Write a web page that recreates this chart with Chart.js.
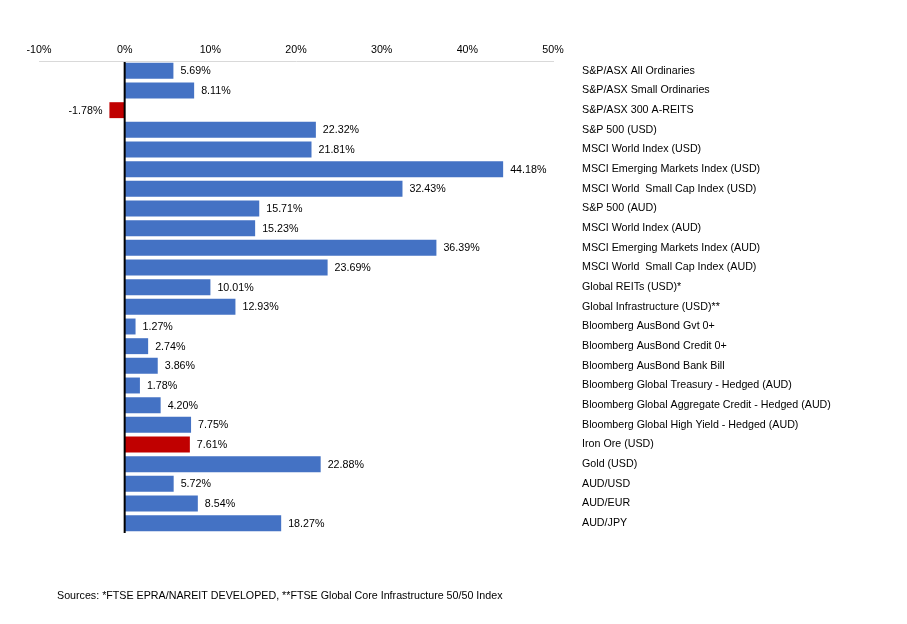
<!DOCTYPE html>
<html>
<head>
<meta charset="utf-8">
<script src="https://cdn.jsdelivr.net/npm/chart.js@4.4.1/dist/chart.umd.min.js"></script>
<style>
html,body{margin:0;padding:0;background:#fff;}
#wrap{position:relative;width:907px;height:624px;}
</style>
</head>
<body>
<div id="wrap"><canvas id="c" width="907" height="624"></canvas></div>
<script>
const categories = [
  "S&P/ASX All Ordinaries",
  "S&P/ASX Small Ordinaries",
  "S&P/ASX 300 A-REITS",
  "S&P 500 (USD)",
  "MSCI World Index (USD)",
  "MSCI Emerging Markets Index (USD)",
  "MSCI World  Small Cap Index (USD)",
  "S&P 500 (AUD)",
  "MSCI World Index (AUD)",
  "MSCI Emerging Markets Index (AUD)",
  "MSCI World  Small Cap Index (AUD)",
  "Global REITs (USD)*",
  "Global Infrastructure (USD)**",
  "Bloomberg AusBond Gvt 0+",
  "Bloomberg AusBond Credit 0+",
  "Bloomberg AusBond Bank Bill",
  "Bloomberg Global Treasury - Hedged (AUD)",
  "Bloomberg Global Aggregate Credit - Hedged (AUD)",
  "Bloomberg Global High Yield - Hedged (AUD)",
  "Iron Ore (USD)",
  "Gold (USD)",
  "AUD/USD",
  "AUD/EUR",
  "AUD/JPY"
];
const returns = [5.69, 8.11, -1.78, 22.32, 21.81, 44.18, 32.43, 15.71, 15.23, 36.39, 23.69, 10.01, 12.93, 1.27, 2.74, 3.86, 1.78, 4.20, 7.75, 7.61, 22.88, 5.72, 8.54, 18.27];
const highlighted = ["S&P/ASX 300 A-REITS", "Iron Ore (USD)"];
const xTicks = [-10, 0, 10, 20, 30, 40, 50];
const footnote = "Sources: *FTSE EPRA/NAREIT DEVELOPED, **FTSE Global Core Infrastructure 50/50 Index";

const BLUE = '#4472C4', RED = '#C00000';
const FONT = 'Arial, "Liberation Sans", sans-serif';
const FS = 10.7;

const valueLabels = {
  id: 'valueLabels',
  afterDatasetsDraw(chart) {
    const ctx = chart.ctx;
    const meta = chart.getDatasetMeta(0);
    ctx.save();
    ctx.font = FS + 'px ' + FONT;
    ctx.fillStyle = '#000';
    ctx.textBaseline = 'middle';
    meta.data.forEach((bar, i) => {
      const v = returns[i];
      const txt = v.toFixed(2) + '%';
      if (v >= 0) { ctx.textAlign = 'left'; ctx.fillText(txt, bar.x + 7, bar.y + 0.5); }
      else { ctx.textAlign = 'right'; ctx.fillText(txt, bar.x - 7, bar.y + 0.5); }
    });
    ctx.restore();
  }
};
const footer = {
  id: 'footer',
  afterDraw(chart) {
    const ctx = chart.ctx;
    ctx.save();
    ctx.font = FS + 'px ' + FONT;
    ctx.fillStyle = '#000';
    ctx.textAlign = 'left';
    ctx.textBaseline = 'middle';
    ctx.fillText(footnote, 57, 596);
    ctx.restore();
  }
};
const zeroLine = {
  id: 'zeroLine',
  afterDatasetsDraw(chart) {
    const x = chart.scales.x.getPixelForValue(0);
    const ctx = chart.ctx;
    ctx.save();
    ctx.strokeStyle = '#000';
    ctx.lineWidth = 2;
    ctx.beginPath();
    ctx.moveTo(x, chart.chartArea.top + 1);
    ctx.lineTo(x, chart.chartArea.bottom);
    ctx.stroke();
    ctx.restore();
  }
};

new Chart(document.getElementById('c'), {
  type: 'bar',
  data: {
    labels: categories,
    datasets: [{
      data: returns,
      backgroundColor: categories.map(c => highlighted.includes(c) ? RED : BLUE),
      categoryPercentage: 1,
      barPercentage: 0.81
    }]
  },
  options: {
    indexAxis: 'y',
    responsive: false,
    devicePixelRatio: 1,
    animation: false,
    layout: { padding: { left: 39, right: 0, top: 0, bottom: 91 } },
    plugins: { legend: { display: false }, tooltip: { enabled: false } },
    scales: {
      x: {
        position: 'top',
        min: -10, max: 50,
        afterBuildTicks(scale) { scale.ticks = xTicks.map(v => ({ value: v })); },
        afterFit(scale) { scale.height = 61; },
        grid: { display: false, drawTicks: false },
        border: { display: true, color: '#d9d9d9', width: 1 },
        ticks: {
          padding: 5,
          color: '#000',
          font: { family: FONT, size: FS },
          callback: v => v + '%'
        }
      },
      y: {
        position: 'right',
        afterFit(scale) { scale.width = 907 - 553; },
        grid: { display: false, drawTicks: false },
        border: { display: false },
        ticks: {
          padding: 29,
          color: '#000',
          font: { family: FONT, size: FS }
        }
      }
    }
  },
  plugins: [valueLabels, zeroLine, footer]
});
</script>
</body>
</html>
